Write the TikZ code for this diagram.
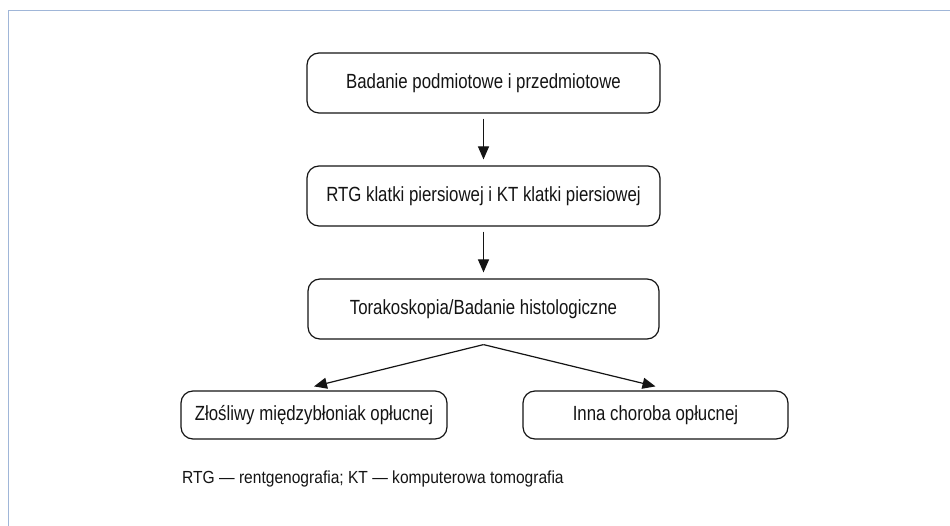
\documentclass[tikz,border=0pt]{standalone}
\usepackage{fontspec}
\setmainfont[FakeStretch=0.82]{Liberation Sans}
\newfontfamily\footfont[FakeStretch=0.89]{Liberation Sans}
\usetikzlibrary{arrows.meta}
\definecolor{framecol}{RGB}{160,182,216}
\definecolor{ink}{RGB}{20,20,20}
\tikzset{
  box/.style={draw=ink, line width=1.2pt, rounded corners=12pt, inner sep=0pt,
    minimum height=60pt, font=\fontsize{20.5}{24}\selectfont, text=ink},
  smallbox/.style={box, minimum height=48pt},
  arr/.style={draw=ink, line width=1.2pt, -{Triangle[length=13pt,width=11pt]}},
}
\begin{document}
\begin{tikzpicture}[x=1pt,y=-1pt]
\useasboundingbox (0,0) rectangle (950,526);
\fill[white] (0,0) rectangle (950,526);
\draw[framecol, line width=1.5pt] (8.5,526) -- (8.5,10.7) -- (950,10.7);
\node[box, minimum width=353pt] (b1) at (483.5,83) {Badanie podmiotowe i przedmiotowe};
\node[box, minimum width=353pt] (b2) at (483.5,196) {RTG klatki piersiowej i KT klatki piersiowej};
\node[box, minimum width=351pt] (b3) at (483.5,309) {Torakoskopia/Badanie histologiczne};
\node[smallbox, minimum width=266pt] (b4) at (314,415) {Złośliwy międzybłoniak opłucnej};
\node[smallbox, minimum width=265pt] (b5) at (655.5,415) {Inna choroba opłucnej};
\draw[arr, shorten <=5pt, shorten >=6pt] (b1) -- (b2);
\draw[arr, shorten <=5pt, shorten >=6pt] (b2) -- (b3);
\coordinate (j) at ([yshift=-5pt]b3.south);
\draw[arr] (j) -- ([yshift=4pt]b4.north);
\draw[arr] (j) -- ([yshift=4pt]b5.north);
\node[anchor=base west, inner sep=0pt, text=ink, font=\footfont\fontsize{17.5}{21}\selectfont] (foot) at (182,483) {RTG — rentgenografia; KT — komputerowa tomografia};
\end{tikzpicture}
\end{document}
